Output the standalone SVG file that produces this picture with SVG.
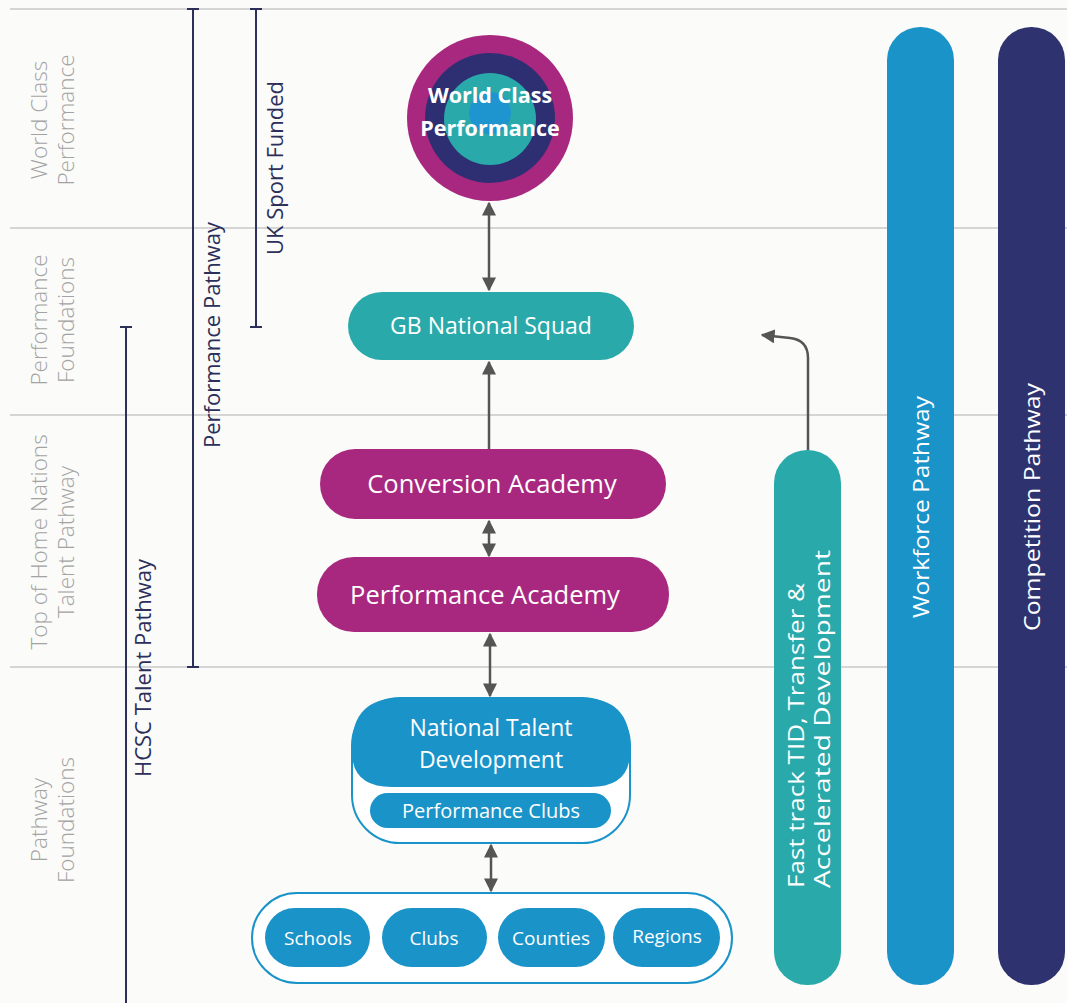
<svg xmlns="http://www.w3.org/2000/svg" width="1067" height="1003" viewBox="0 0 1067 1003">
<defs>
<style>
.lane{stroke:#c8c8c8;stroke-width:1.5}
.rowlbl{font-family:"Open Sans","Noto Sans",sans-serif;font-size:22.5px;font-weight:300;fill:#a3a3a3;text-anchor:middle}
.bar{stroke:#2b2f5a;stroke-width:2;fill:none}
.barlbl{font-family:"Open Sans","Noto Sans",sans-serif;font-size:22px;fill:#2b2f5a;text-anchor:middle}
.wt{font-family:"Open Sans","Noto Sans",sans-serif;fill:#ffffff;text-anchor:middle}
.conn{stroke:#555555;stroke-width:2.5;fill:none}
.mag{fill:#a8277f}
.teal{fill:#2aa9ab}
.blue{fill:#1a93c9}
.outline{fill:#ffffff;stroke:#1a93c9;stroke-width:2}
</style>
<marker id="ah" viewBox="0 0 10 10" refX="9" refY="5" markerWidth="5.6" markerHeight="5.6" orient="auto-start-reverse" markerUnits="strokeWidth">
<path d="M0,0 L10,5 L0,10 z" fill="#555555"/>
</marker>
</defs>
<rect width="1067" height="1003" fill="#fbfbf9"/>
<g id="lanes">
<line class="lane" x1="10" y1="9" x2="1067" y2="9"/>
<line class="lane" x1="10" y1="228" x2="1067" y2="228"/>
<line class="lane" x1="10" y1="415" x2="1067" y2="415"/>
<line class="lane" x1="10" y1="667" x2="1067" y2="667"/>
</g>
<g id="row-labels">
<text class="rowlbl" transform="translate(47,120) rotate(-90)"><tspan x="0" dy="0">World Class</tspan><tspan x="0" dy="27">Performance</tspan></text>
<text class="rowlbl" transform="translate(47,320) rotate(-90)"><tspan x="0" dy="0">Performance</tspan><tspan x="0" dy="27">Foundations</tspan></text>
<text class="rowlbl" transform="translate(47,542) rotate(-90)"><tspan x="0" dy="0">Top of Home Nations</tspan><tspan x="0" dy="27">Talent Pathway</tspan></text>
<text class="rowlbl" transform="translate(47,820) rotate(-90)"><tspan x="0" dy="0">Pathway</tspan><tspan x="0" dy="27">Foundations</tspan></text>
</g>
<g id="performance-pathway">
<line class="bar" x1="193" y1="9" x2="193" y2="667"/>
<line class="bar" x1="187" y1="9" x2="199" y2="9"/>
<line class="bar" x1="187" y1="667" x2="199" y2="667"/>
<text class="barlbl" transform="translate(220,335) rotate(-90)">Performance Pathway</text>
</g>
<g id="uk-sport-funded">
<line class="bar" x1="256" y1="9" x2="256" y2="327"/>
<line class="bar" x1="250" y1="9" x2="262" y2="9"/>
<line class="bar" x1="250" y1="327" x2="262" y2="327"/>
<text class="barlbl" transform="translate(283,168) rotate(-90)">UK Sport Funded</text>
</g>
<g id="hcsc-talent-pathway">
<line class="bar" x1="126" y1="327" x2="126" y2="1003"/>
<line class="bar" x1="120" y1="327" x2="132" y2="327"/>
<text class="barlbl" transform="translate(151,668) rotate(-90)">HCSC Talent Pathway</text>
</g>
<g id="connectors">
<line class="conn" x1="489" y1="203" x2="489" y2="290" marker-start="url(#ah)" marker-end="url(#ah)"/>
<line class="conn" x1="489" y1="449" x2="489" y2="362" marker-end="url(#ah)"/>
<line class="conn" x1="489" y1="521" x2="489" y2="556" marker-start="url(#ah)" marker-end="url(#ah)"/>
<line class="conn" x1="490" y1="634" x2="490" y2="696" marker-start="url(#ah)" marker-end="url(#ah)"/>
<line class="conn" x1="491" y1="845" x2="491" y2="891" marker-start="url(#ah)" marker-end="url(#ah)"/>
<path class="conn" d="M808,450 L808,358 Q808,340 790,338 L762,335" marker-end="url(#ah)"/>
</g>
<g id="world-class-performance">
<circle cx="490" cy="118" r="83" fill="#a8277f"/>
<circle cx="490" cy="118" r="65" fill="#2e2f72"/>
<circle cx="490" cy="119" r="46" fill="#2aa9ab"/>
<circle cx="490" cy="113" r="21" fill="#1f95d0"/>
<text class="wt" x="490" y="103" font-size="21.5" font-weight="bold">World Class</text>
<text class="wt" x="490" y="136" font-size="21.5" font-weight="bold">Performance</text>
</g>
<g id="gb-national-squad">
<rect class="teal" x="348" y="292" width="286" height="68" rx="34"/>
<text class="wt" x="491" y="334" font-size="23">GB National Squad</text>
</g>
<g id="conversion-academy">
<rect class="mag" x="320" y="449" width="346" height="70" rx="35"/>
<text class="wt" x="492" y="493" font-size="25.5">Conversion Academy</text>
</g>
<g id="performance-academy">
<rect class="mag" x="317" y="557" width="352" height="75" rx="37"/>
<text class="wt" x="485" y="604" font-size="25.5">Performance Academy</text>
</g>
<g id="national-talent-development">
<rect class="outline" x="352" y="698" width="278" height="145" rx="48"/>
<path class="blue" d="M400,698 L582,698 Q630,698 630,746 L630,752 Q630,787 590,787 L392,787 Q352,787 352,752 L352,746 Q352,698 400,698 Z"/>
<text class="wt" x="491" y="736" font-size="23">National Talent</text>
<text class="wt" x="491" y="768" font-size="23">Development</text>
<rect class="blue" x="370" y="793" width="241" height="35" rx="17.5"/>
<text class="wt" x="491" y="818" font-size="20">Performance Clubs</text>
</g>
<g id="foundations">
<rect class="outline" x="252" y="893" width="480" height="90" rx="45"/>
<g id="schools"><rect class="blue" x="265" y="908" width="105" height="59" rx="29.5"/><text class="wt" x="318" y="945" font-size="19">Schools</text></g>
<g id="clubs"><rect class="blue" x="382" y="908" width="105" height="59" rx="29.5"/><text class="wt" x="434" y="945" font-size="19">Clubs</text></g>
<g id="counties"><rect class="blue" x="498" y="908" width="107" height="59" rx="29.5"/><text class="wt" x="551" y="945" font-size="19">Counties</text></g>
<g id="regions"><rect class="blue" x="613" y="908" width="107" height="59" rx="29.5"/><text class="wt" x="667" y="943" font-size="19">Regions</text></g>
</g>
<g id="fast-track">
<rect class="teal" x="774" y="450" width="67" height="535" rx="33"/>
<text class="wt" font-size="22" transform="translate(808,888) rotate(-90)" style="text-anchor:start"><tspan x="0" y="-4" textLength="305" lengthAdjust="spacingAndGlyphs">Fast track TID, Transfer &amp;</tspan><tspan x="0" y="22" textLength="338" lengthAdjust="spacingAndGlyphs">Accelerated Development</tspan></text>
</g>
<g id="workforce-pathway">
<rect class="blue" x="887" y="27" width="67" height="958" rx="33"/>
<text class="wt" font-size="22" transform="translate(929,507) rotate(-90)" textLength="222" lengthAdjust="spacingAndGlyphs">Workforce Pathway</text>
</g>
<g id="competition-pathway">
<rect x="998" y="27" width="67" height="958" rx="33" fill="#2e3370"/>
<text class="wt" font-size="22" transform="translate(1040,507) rotate(-90)" textLength="248" lengthAdjust="spacingAndGlyphs">Competition Pathway</text>
</g>
</svg>
